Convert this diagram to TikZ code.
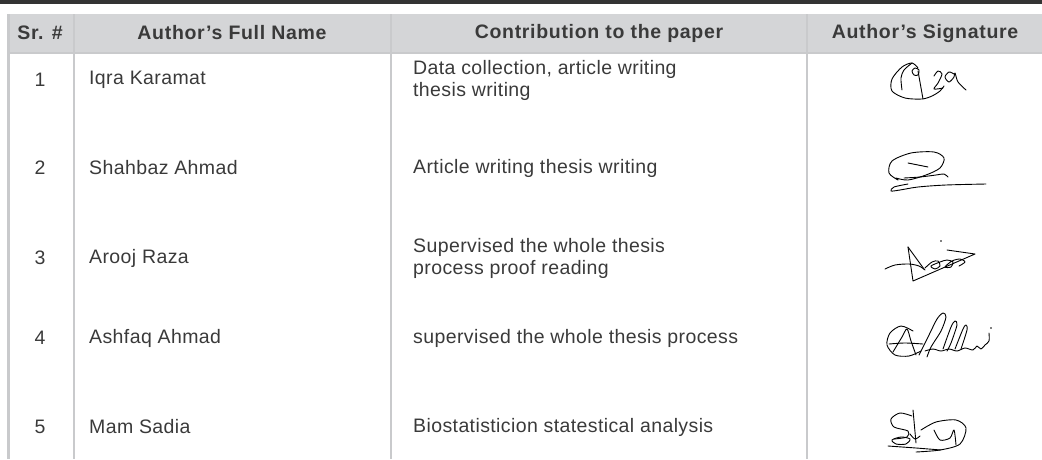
\documentclass[tikz,border=0pt]{standalone}
\usepackage{fontspec}
\setmainfont{Liberation Sans}
\usetikzlibrary{positioning}
\definecolor{rulegray}{HTML}{C9CACC}
\definecolor{headgray}{HTML}{D4D5D7}
\definecolor{topbar}{HTML}{333333}
\definecolor{textgray}{HTML}{3A3A3A}
\tikzstyle{head} = [font=\fontsize{19.5}{22}\selectfont\bfseries\addfontfeature{LetterSpace=3.5}, text=textgray, inner sep=0pt]
\tikzstyle{cell} = [font=\fontsize{19.5}{22}\selectfont\addfontfeature{LetterSpace=2}, text=textgray, inner sep=0pt, align=left]
\tikzstyle{rule} = [draw=rulegray, line width=2.5pt]
\tikzstyle{sign} = [draw=black, line width=0.9pt, line cap=round, line join=round]

\begin{document}
\begin{tikzpicture}[x=1pt,y=-1pt]
    \useasboundingbox (0,0) rectangle (1042,459);
    % Bars and rules
    \fill[topbar] (0,0) rectangle (1042,4);
    \fill[headgray] (8,14) rectangle (1042,53);
    \draw[rule] (8.5,14) -- (8.5,459);
    \draw[rule] (74,14) -- (74,459);
    \draw[rule] (391,14) -- (391,459);
    \draw[rule] (807,14) -- (807,459);
    \draw[rulegray, line width=1.5pt] (8,53) -- (1042,53);
    % Header
    \node [head] (hsr) at (40,33) {Sr. \#};
    \node [head] (hname) at (232,33) {Author's Full Name};
    \node [head] (hcontrib) at (599,33) {Contribution to the paper};
    \node [head] (hsign) at (925,33) {Author's Signature};
    % Rows
    \node [cell] (sr1) at (40,80) {1};
    \node [cell, anchor=west] (name1) at (89,80) {Iqra Karamat};
    \node [cell, anchor=west] (contrib1) at (413,80) {Data collection, article writing\\thesis writing};
    \node [cell] (sr2) at (40,168) {2};
    \node [cell, anchor=west] (name2) at (89,168) {Shahbaz Ahmad};
    \node [cell, anchor=west] (contrib2) at (413,168) {Article writing thesis writing};
    \node [cell] (sr3) at (40,258) {3};
    \node [cell, anchor=west] (name3) at (89,258) {Arooj Raza};
    \node [cell, anchor=west] (contrib3) at (413,258) {Supervised the whole thesis\\process proof reading};
    \node [cell] (sr4) at (40,338) {4};
    \node [cell, anchor=west] (name4) at (89,338) {Ashfaq Ahmad};
    \node [cell, anchor=west] (contrib4) at (413,338) {supervised the whole thesis process};
    \node [cell] (sr5) at (40,427) {5};
    \node [cell, anchor=west] (name5) at (89,427) {Mam Sadia};
    \node [cell, anchor=west] (contrib5) at (413,427) {Biostatisticion statestical analysis};
    % Signatures
    \begin{scope}[shift={(888,62)}]
        \draw[sign] plot[smooth] coordinates {(30,6) (24,1) (14,5) (4,17) (4,29) (17,36) (34,37) (44,34) (52,29) (56,24)};
        \draw[sign] plot[smooth] coordinates {(14,28) (13,16) (16,8) (24,1)};
        \draw[sign] plot[smooth cycle] coordinates {(24,9) (27,6) (31,8) (30,13) (26,13)};
        \draw[sign] (30,9) -- (35,37);
        \draw[sign] plot[smooth] coordinates {(46,14) (50,9) (54,12) (50,21) (46,27) (55,26)};
        \draw[sign] plot[smooth] coordinates {(66,12) (61,10) (57,15) (61,20) (66,15) (67,11) (70,20) (78,28)};
    \end{scope}
    \begin{scope}[shift={(886,150)}]
        \draw[sign] plot[smooth] coordinates {(12,30) (3,23) (6,11) (25,3) (48,2) (58,8) (54,18) (40,25) (22,30) (10,28)};
        \draw[sign] (22,13) -- (42,17);
        \draw[sign] plot[smooth] coordinates {(18,28) (34,27) (50,25) (58,24) (62,27)};
        \draw[sign] plot[smooth] coordinates {(22,34) (8,37) (5,41) (14,40) (32,37) (60,35) (100,34)};
    \end{scope}
    \begin{scope}[shift={(885,240)}]
        \draw[sign] plot[smooth] coordinates {(0,29) (10,25) (24,24) (34,26) (40,30)};
        \draw[sign] (23,7) -- (39,29);
        \draw[sign] (23,7) -- (28,41) -- (90,14) -- (62,10);
        \draw[sign] plot[smooth] coordinates {(40,28) (47,22) (53,21) (55,26) (50,29) (46,26) (55,22) (62,20) (68,22) (66,27) (60,27) (67,21) (75,19) (80,22) (74,26)};
        \fill (56,1) circle [radius=0.8];
    \end{scope}
    \begin{scope}[shift={(885,313)}]
        \draw[sign] plot[smooth] coordinates {(28,18) (16,13) (5,20) (2,32) (10,42) (24,43) (36,38)};
        \draw[sign] plot[smooth] coordinates {(8,39) (17,24) (22,16) (26,28) (31,42)};
        \draw[sign] plot[smooth] coordinates {(4,31) (20,30) (38,31)};
        \draw[sign] plot[smooth] coordinates {(34,42) (44,22) (52,6) (58,0) (61,4) (56,18) (46,34) (42,44)};
        \draw[sign] plot[smooth] coordinates {(58,36) (66,14) (70,8) (72,12) (66,30) (62,38)};
        \draw[sign] plot[smooth] coordinates {(70,36) (78,16) (81,12) (82,17) (76,36)};
        \draw[sign] plot[smooth] coordinates {(40,38) (48,36) (56,38) (64,36) (72,38) (80,35) (88,37) (92,33) (96,36) (100,32) (104,28) (104,20)};
        \fill (106,15) circle [radius=0.8];
    \end{scope}
    \begin{scope}[shift={(888,410)}]
        \draw[sign] plot[smooth] coordinates {(24,6) (12,3) (3,9) (6,17) (20,21) (19,27) (6,29)};
        \draw[sign] plot[smooth cycle] coordinates {(4,30) (13,27) (22,29) (18,34) (8,34)};
        \draw[sign] (25,0) -- (28,33);
        \draw[sign] plot[smooth] coordinates {(22,24) (27,29) (32,26)};
        \draw[sign] plot[smooth] coordinates {(33,20) (48,12) (68,10) (78,18) (72,34) (52,40) (28,42)};
        \draw[sign] plot[smooth] coordinates {(46,20) (52,30) (62,28) (66,20) (68,35)};
        \draw[sign] plot[smooth] coordinates {(0,36) (28,38) (53,40)};
    \end{scope}
\end{tikzpicture}
\end{document}
